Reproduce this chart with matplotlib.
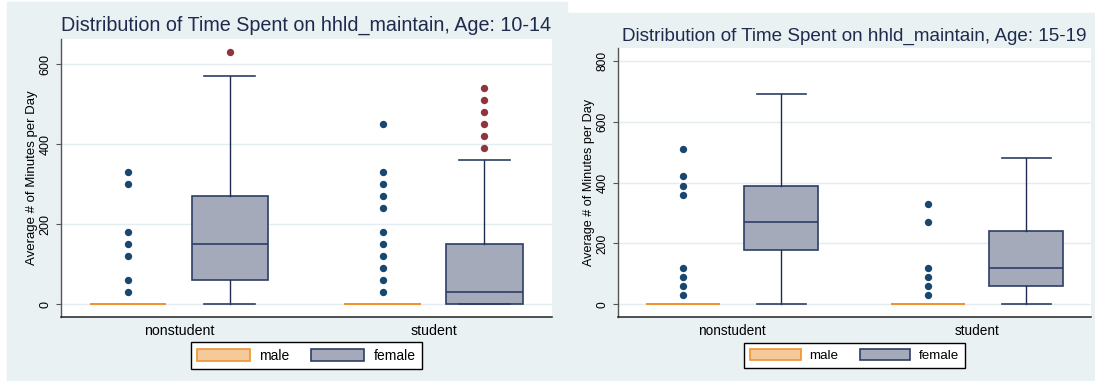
import matplotlib
matplotlib.use("Agg")
import matplotlib.pyplot as plt
from matplotlib.patches import Rectangle, Patch

plt.rcParams["font.family"] = ["Liberation Sans", "DejaVu Sans"]

W, H = 1095, 381

groups = ["nonstudent", "student"]
sexes = ["male", "female"]

# per group: whisker low, q1, median, q3, whisker high (minutes per day)
male_1014 = [[0, 0, 0, 0, 0], [0, 0, 0, 0, 0]]
female_1014 = [[0, 60, 150, 270, 570], [0, 0, 30, 150, 360]]
male_out_1014 = [[30, 60, 120, 150, 180, 300, 330],
                 [30, 60, 90, 120, 150, 180, 240, 270, 300, 330, 450]]
female_out_1014 = [[630], [390, 420, 450, 480, 510, 540]]
yticks_1014 = [0, 200, 400, 600]

male_1519 = [[0, 0, 0, 0, 0], [0, 0, 0, 0, 0]]
female_1519 = [[0, 180, 270, 390, 690], [0, 60, 120, 240, 480]]
male_out_1519 = [[30, 60, 90, 120, 360, 390, 420, 510],
                 [30, 60, 90, 120, 270, 330]]
female_out_1519 = [[], []]
yticks_1519 = [0, 200, 400, 600, 800]

BG = "#E9F1F3"
NAVY = "#1A476F"
MAROON = "#90353B"
LINE = "#1E2D4F"
MALE_FILL = "#F5CA9A"
MALE_EDGE = "#EE9430"
FEMALE_FILL = "#A5AABA"
FEMALE_EDGE = "#2C3D66"
TITLE_COL = "#1F2B4D"


def fx(x):
    return x / W


def fy(y):
    return 1 - y / H


def box_stats(summary, outliers):
    stats = []
    for s, o in zip(summary, outliers):
        lo, q1, med, q3, hi = s
        stats.append(dict(whislo=lo, q1=q1, med=med, q3=q3, whishi=hi, fliers=o))
    return stats


def panel(fig, rect, title, title_y, k, male, male_out, female, female_out,
          yticks, ylim):
    # k scales the text, the right-hand graph was exported a bit smaller
    x0, y0, x1, y1 = rect
    ax = fig.add_axes([fx(x0), fy(y1), fx(x1 - x0), (y1 - y0) / H])
    ax.set_zorder(2)
    pos = list(range(len(groups)))

    ax.bxp(box_stats(male, male_out), positions=[p - 0.2 for p in pos],
           widths=0.3, patch_artist=True, showcaps=False, manage_ticks=False,
           boxprops=dict(facecolor=MALE_FILL, edgecolor=MALE_EDGE, lw=1.3),
           medianprops=dict(color=MALE_EDGE, lw=1.3),
           whiskerprops=dict(color=MALE_EDGE, lw=1.3),
           flierprops=dict(marker="o", markerfacecolor=NAVY, markeredgewidth=0,
                           markersize=5.3))
    ax.bxp(box_stats(female, female_out), positions=[p + 0.2 for p in pos],
           widths=0.3, capwidths=0.2, patch_artist=True, manage_ticks=False,
           boxprops=dict(facecolor=FEMALE_FILL, edgecolor=FEMALE_EDGE, lw=1.2),
           medianprops=dict(color=FEMALE_EDGE, lw=1.2),
           whiskerprops=dict(color=LINE, lw=1.0),
           capprops=dict(color=FEMALE_EDGE, lw=1.2),
           flierprops=dict(marker="o", markerfacecolor=MAROON, markeredgewidth=0,
                           markersize=5.3))

    ax.set_xlim(-0.465, 1.465)
    ax.set_ylim(*ylim)
    ax.set_xticks(pos)
    ax.set_xticklabels(groups, fontsize=10.2 * k)
    ax.tick_params(axis="x", length=0, pad=5)
    ax.set_yticks(yticks)
    ax.set_yticklabels([str(t) for t in yticks], fontsize=9 * k,
                       rotation=90, va="center")
    ax.tick_params(axis="y", length=3.6, color="#555555", pad=3)
    ax.yaxis.grid(True, color="#E3ECEE", lw=1.0)
    ax.set_axisbelow(True)
    for s in ["top", "right"]:
        ax.spines[s].set_visible(False)
    ax.spines["left"].set_color("#555555")
    ax.spines["bottom"].set_color("#222222")
    ax.spines["left"].set_linewidth(1.0)
    ax.spines["bottom"].set_linewidth(1.1)

    cx = fx((x0 + x1) / 2)
    fig.text(cx, fy(title_y), title, ha="center", va="center",
             fontsize=14.2 * k, color=TITLE_COL)
    fig.text(fx(x0 - 29), fy((y0 + y1) / 2), "Average # of Minutes per Day",
             rotation=90, ha="center", va="center", fontsize=9.5 * k)

    handles = [Patch(facecolor=MALE_FILL, edgecolor=MALE_EDGE, lw=1.2),
               Patch(facecolor=FEMALE_FILL, edgecolor=FEMALE_EDGE, lw=1.2)]
    leg = fig.legend(handles, sexes, loc="center", ncol=2,
                     bbox_to_anchor=(cx, fy(355.5)), fontsize=10 * k,
                     frameon=True, fancybox=False, edgecolor="black",
                     framealpha=1, handlelength=3.8, handleheight=0.95,
                     handletextpad=0.65, columnspacing=1.6, borderpad=0.45)
    leg.get_frame().set_linewidth(1.0)
    return ax


fig = plt.figure(figsize=(W / 100, H / 100), dpi=100)
fig.patch.set_facecolor("white")
fig.patches.append(Rectangle((fx(7), fy(380)), fx(560), 378 / H,
                             transform=fig.transFigure, color=BG, zorder=-1))
fig.patches.append(Rectangle((fx(567), fy(380)), fx(528), 367 / H,
                             transform=fig.transFigure, color=BG, zorder=-1))

panel(fig, (60.7, 39.3, 551.8, 317), "Distribution of Time Spent on hhld_maintain, Age: 10-14",
      25.3, 1.0, male_1014, male_out_1014, female_1014, female_out_1014,
      yticks_1014, (-32.5, 662.6))
panel(fig, (618, 48.3, 1091.2, 317.3), "Distribution of Time Spent on hhld_maintain, Age: 15-19",
      36, 0.96, male_1519, male_out_1519, female_1519, female_out_1519,
      yticks_1519, (-42.7, 841))

fig.savefig("out.png", dpi=100)
